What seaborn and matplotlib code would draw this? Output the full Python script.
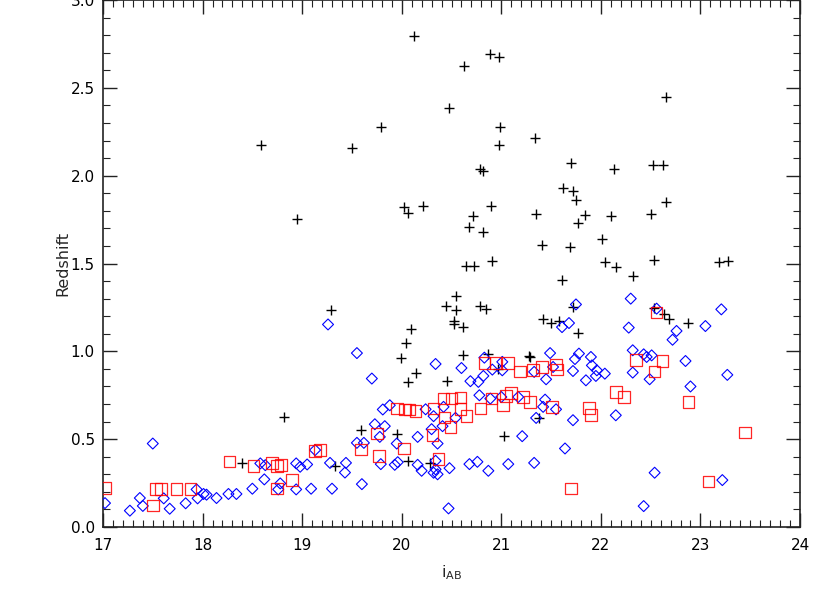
import matplotlib
matplotlib.use("Agg")
import matplotlib.pyplot as plt
from matplotlib.ticker import MultipleLocator, FormatStrFormatter
import seaborn as sns
import pandas as pd

# Black plus markers
plus_x = [19.29, 18.82, 18.40, 19.33, 20.04, 19.99, 20.62, 20.14, 20.06, 20.45, 20.87,
          19.59, 19.95, 20.06, 20.28, 21.03, 20.97, 21.28, 21.29, 21.38,
          20.12, 20.63, 20.47, 19.79, 18.59, 19.50, 20.79, 20.82, 18.95, 20.02, 20.06,
          20.21, 20.72, 20.68, 20.82, 20.65, 20.73, 20.55, 20.44, 20.55, 20.79, 20.85,
          20.53, 20.62, 20.53, 20.09,
          20.89, 20.98, 22.65, 20.99, 20.98, 21.34, 21.70, 22.13, 22.52, 22.62, 21.62,
          21.72, 21.75, 22.65, 20.90, 21.35, 21.84, 22.10, 22.50, 21.77, 21.41, 21.69,
          22.01, 20.91, 22.04, 22.15, 22.53, 23.19, 23.28, 22.32, 21.61, 21.72, 21.42,
          21.50, 21.58, 21.77, 22.53, 22.63, 22.68, 22.88]
plus_y = [1.233, 0.627, 0.362, 0.347, 1.047, 0.964, 0.981, 0.877, 0.824, 0.830, 0.983,
          0.551, 0.527, 0.377, 0.367, 0.517, 0.900, 0.973, 0.965, 0.621,
          2.797, 2.625, 2.385, 2.278, 2.176, 2.157, 2.038, 2.028, 1.754, 1.820, 1.788,
          1.830, 1.773, 1.706, 1.678, 1.483, 1.483, 1.313, 1.256, 1.233, 1.258, 1.243,
          1.170, 1.138, 1.153, 1.129,
          2.695, 2.678, 2.449, 2.278, 2.176, 2.214, 2.074, 2.038, 2.063, 2.058, 1.928,
          1.911, 1.864, 1.848, 1.830, 1.782, 1.778, 1.773, 1.782, 1.733, 1.608, 1.593,
          1.638, 1.513, 1.511, 1.479, 1.521, 1.506, 1.513, 1.430, 1.407, 1.252, 1.182,
          1.161, 1.170, 1.104, 1.248, 1.214, 1.186, 1.163]

# Blue diamonds
diamond_x = [17.02, 17.27, 17.37, 17.40, 17.50, 17.61, 17.67, 17.83, 17.94, 17.95, 18.01,
             18.04, 18.14, 18.26, 18.34, 18.50, 18.58, 18.62, 18.63, 18.76, 18.78, 18.94,
             18.94, 18.98, 19.05, 19.09, 19.13, 19.26, 19.28, 19.30, 19.44, 19.43,
             19.55, 19.70, 20.34, 20.60, 20.83, 20.69, 20.77, 20.82, 20.91, 21.01, 20.78,
             20.89, 21.00, 19.88, 19.81, 20.24, 20.42, 20.32, 20.54, 20.41, 19.73, 19.83,
             19.78, 20.16, 20.30, 20.36, 19.55, 19.62, 19.95, 19.60, 19.79, 19.93, 19.96,
             20.16, 20.20, 20.32, 20.34, 20.36, 20.34, 20.48, 20.68, 20.76, 20.87, 21.07,
             20.47, 21.01,
             21.49, 21.33, 21.45, 21.52, 21.78, 21.74, 21.90, 21.91, 21.96, 21.95, 22.04,
             21.72, 21.85, 22.32, 22.43, 22.46, 22.51, 22.32, 22.49, 21.17, 21.44, 21.42,
             21.55, 21.35, 21.72, 22.15, 21.21, 21.64, 21.33, 22.54, 22.43,
             22.56, 23.21, 23.05, 22.76, 22.72, 22.85, 23.27, 22.90, 23.22,
             21.75, 21.68, 21.61, 22.30, 22.28]
diamond_y = [0.136, 0.093, 0.165, 0.120, 0.475, 0.163, 0.104, 0.135, 0.214, 0.163, 0.188,
             0.184, 0.165, 0.188, 0.188, 0.218, 0.362, 0.271, 0.352, 0.214, 0.248, 0.214,
             0.362, 0.343, 0.356, 0.218, 0.438, 1.153, 0.365, 0.218, 0.365, 0.310,
             0.990, 0.845, 0.928, 0.905, 0.964, 0.830, 0.826, 0.860, 0.896, 0.892, 0.750,
             0.731, 0.740, 0.693, 0.669, 0.670, 0.684, 0.631, 0.621, 0.574, 0.585, 0.574,
             0.513, 0.513, 0.557, 0.475, 0.479, 0.479, 0.475, 0.244, 0.358, 0.354, 0.369,
             0.354, 0.320, 0.309, 0.328, 0.300, 0.377, 0.335, 0.358, 0.371, 0.320, 0.358,
             0.106, 0.940,
             0.990, 0.883, 0.841, 0.911, 0.987, 0.956, 0.968, 0.920, 0.892, 0.860, 0.873,
             0.888, 0.835, 1.006, 0.983, 0.968, 0.977, 0.879, 0.841, 0.740, 0.725, 0.684,
             0.670, 0.621, 0.608, 0.636, 0.517, 0.447, 0.365, 0.309, 0.119,
             1.243, 1.239, 1.144, 1.116, 1.066, 0.945, 0.866, 0.800, 0.267,
             1.267, 1.161, 1.138, 1.300, 1.135]

# Red squares
square_x = [17.02, 17.50, 17.53, 17.58, 17.74, 17.88, 18.27, 18.51, 18.70, 18.75, 18.79,
            18.75, 18.90, 19.13, 19.18,
            20.83, 20.94, 21.07, 19.95, 20.03, 20.08, 20.14, 20.32, 20.42, 20.50, 20.59,
            20.59, 20.43, 20.49, 20.65, 20.79, 20.90, 21.02, 21.05, 21.10, 21.22, 21.29,
            19.75, 19.59, 20.02, 19.77, 20.31, 20.37,
            21.19, 21.32, 21.41, 21.55, 21.56, 22.35, 22.62, 22.54, 21.51, 22.15, 22.23,
            21.88, 21.90, 21.70,
            22.56, 22.88, 23.45, 23.08]
square_y = [0.223, 0.123, 0.218, 0.218, 0.218, 0.218, 0.373, 0.347, 0.365, 0.347, 0.354,
            0.220, 0.267, 0.434, 0.438,
            0.934, 0.934, 0.934, 0.674, 0.669, 0.669, 0.659, 0.674, 0.731, 0.731, 0.737,
            0.670, 0.623, 0.570, 0.631, 0.674, 0.731, 0.693, 0.744, 0.763, 0.740, 0.712,
            0.532, 0.441, 0.447, 0.403, 0.523, 0.386,
            0.886, 0.892, 0.911, 0.926, 0.896, 0.949, 0.945, 0.885, 0.684, 0.769, 0.740,
            0.678, 0.636, 0.220,
            1.220, 0.712, 0.538, 0.260]

x_ticks = [17, 18, 19, 20, 21, 22, 23, 24]
y_ticks = [0.0, 0.5, 1.0, 1.5, 2.0, 2.5, 3.0]

sns.set_theme(style="ticks")
plt.rcParams["font.family"] = ["DejaVu Sans"]

fig = plt.figure(figsize=(8.30, 5.93), dpi=100)
ax = fig.add_axes([103 / 830, 1 - 527 / 593, 697 / 830, 527 / 593])

plus_df = pd.DataFrame({"i": plus_x, "z": plus_y})
dia_df = pd.DataFrame({"i": diamond_x, "z": diamond_y})
sq_df = pd.DataFrame({"i": square_x, "z": square_y})

sns.scatterplot(data=plus_df, x="i", y="z", marker="+", s=58, color="black",
                linewidth=1.0, ax=ax, zorder=3)
sns.scatterplot(data=dia_df, x="i", y="z", marker="D", s=31, facecolors="none",
                edgecolor="blue", linewidth=0.8, ax=ax, zorder=4)
sns.scatterplot(data=sq_df, x="i", y="z", marker="s", s=70, facecolors="none",
                edgecolor="red", linewidth=0.9, alpha=0.85, ax=ax, zorder=5)

ax.set_xlim(17, 24)
ax.set_ylim(0, 3)
ax.set_xticks(x_ticks)
ax.set_yticks(y_ticks)
ax.yaxis.set_major_formatter(FormatStrFormatter("%.1f"))
ax.xaxis.set_minor_locator(MultipleLocator(0.1))
ax.yaxis.set_minor_locator(MultipleLocator(0.1))
ax.tick_params(which="major", direction="in", top=True, right=True, length=10,
               width=1.0, labelsize=11, colors="#222222", labelcolor="black")
ax.tick_params(axis="x", which="major", pad=8)
ax.tick_params(axis="y", which="major", pad=6)
ax.tick_params(which="minor", direction="in", top=True, right=True, length=5,
               width=0.8, colors="#222222")
for sp in ax.spines.values():
    sp.set_visible(True)
    sp.set_linewidth(1.2)
    sp.set_color("#222222")

ax.set_xlabel(r"i$_{\mathregular{AB}}$", fontsize=11.5, labelpad=7)
ax.set_ylabel("Redshift", fontsize=11.5, labelpad=0)
ax.grid(False)

fig.savefig("out.png", dpi=100)
